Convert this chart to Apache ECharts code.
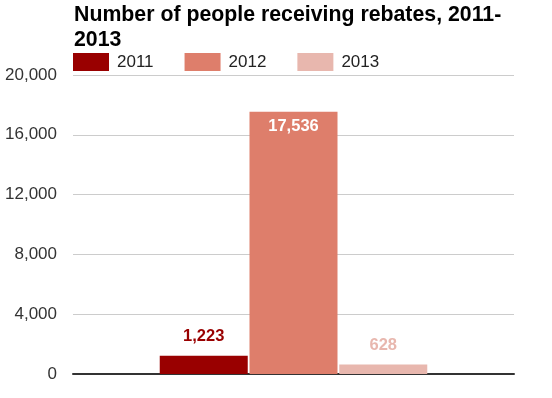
<!DOCTYPE html>
<html>
<head>
<meta charset="utf-8">
<script src="https://cdn.jsdelivr.net/npm/echarts@6/dist/echarts.min.js"></script>
<style>
  html, body { margin: 0; padding: 0; background: #fff; }
  #chart { width: 552px; height: 398px; }
</style>
</head>
<body>
<div id="chart"></div>
<script>
// data
var categories = [''];
var seriesNames = ['2011', '2012', '2013'];
var seriesValues = [[1223], [17536], [628]];
var seriesColors = ['#990000', '#de7e6b', '#e8b7ae'];
var yTicks = [0, 4000, 8000, 12000, 16000, 20000];

var chart = echarts.init(document.getElementById('chart'));

function fmt(v) {
    return String(v).replace(/\B(?=(\d{3})+(?!\d))/g, ',');
}

var series = [];
for (var i = 0; i < seriesNames.length; i++) {
    var inside = seriesValues[i][0] > 10000;
    series.push({
        name: seriesNames[i],
        type: 'bar',
        barWidth: 88,
        barGap: '2%',
        itemStyle: { color: seriesColors[i] },
        label: {
            show: true,
            position: inside ? 'insideTop' : 'top',
            distance: inside ? 6 : 11,
            color: inside ? '#ffffff' : seriesColors[i],
            fontFamily: 'Liberation Sans, Arial, sans-serif',
            fontWeight: 'bold',
            fontSize: 16.5,
            formatter: function (p) { return fmt(p.value); }
        },
        data: seriesValues[i]
    });
}

var option = {
    animation: false,
    textStyle: { fontFamily: 'Liberation Sans, Arial, sans-serif' },
    title: {
        text: 'Number of people receiving rebates, 2011-\n2013',
        left: 69,
        top: -2,
        textStyle: {
            fontSize: 21.3,
            fontWeight: 'bold',
            color: '#000',
            lineHeight: 25
        }
    },
    legend: {
        left: 73,
        top: 53,
        itemWidth: 36,
        itemHeight: 18,
        itemGap: 31,
        icon: 'rect',
        padding: 0,
        textStyle: { fontSize: 17, color: '#222', padding: [0, 0, 0, 3] },
        data: seriesNames
    },
    grid: { left: 73, right: 38, top: 75, bottom: 24 },
    xAxis: {
        type: 'category',
        data: categories,
        axisTick: { show: false },
        axisLabel: { show: false },
        axisLine: { lineStyle: { color: '#333', width: 2 } }
    },
    yAxis: {
        type: 'value',
        min: yTicks[0],
        max: yTicks[yTicks.length - 1],
        interval: yTicks[1] - yTicks[0],
        axisLine: { show: false },
        axisTick: { show: false },
        axisLabel: { fontSize: 17, color: '#333', margin: 16, formatter: fmt },
        splitLine: { lineStyle: { color: '#cccccc' } }
    },
    series: series
};

chart.setOption(option);
</script>
</body>
</html>
